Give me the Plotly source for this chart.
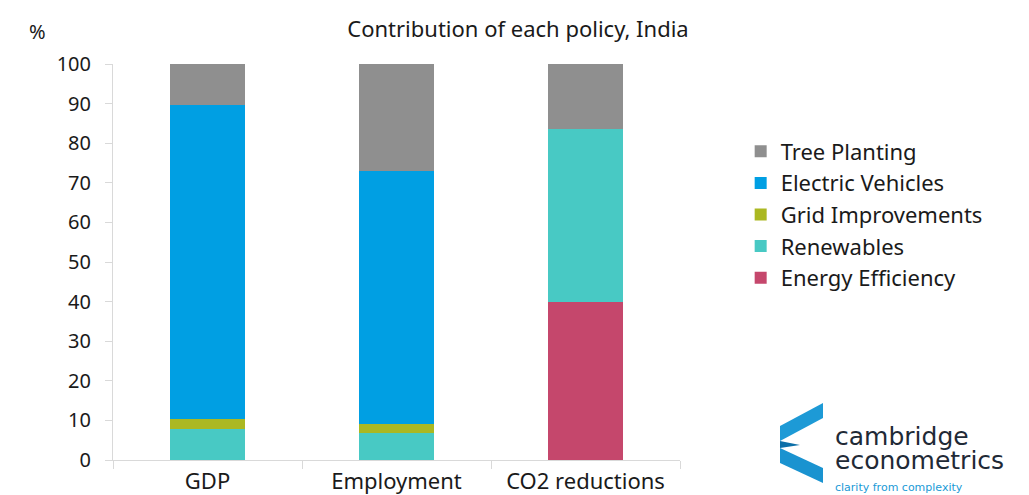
import plotly.graph_objects as go

# categories and policy shares (%)
categories = ["GDP", "Employment", "CO2 reductions"]
energy_efficiency = [0, 0, 39.9]
renewables = [7.8, 6.8, 43.7]
grid_improvements = [2.6, 2.3, 0]
electric_vehicles = [79.2, 63.9, 0]
tree_planting = [10.4, 27.0, 16.4]

series = [
    ("Energy Efficiency", energy_efficiency, "#c5476c"),
    ("Renewables", renewables, "#48c9c4"),
    ("Grid Improvements", grid_improvements, "#abb822"),
    ("Electric Vehicles", electric_vehicles, "#009fe3"),
    ("Tree Planting", tree_planting, "#8f8f8f"),
]

font_family = "'Noto Sans', sans-serif"
logo_font = "'DejaVu Sans', sans-serif"

fig = go.Figure()
for name, vals, col in series:
    fig.add_trace(go.Bar(
        x=categories, y=vals, name=name,
        marker=dict(color=col, line=dict(width=0)),
        width=0.4,
    ))

fig.update_layout(
    barmode="stack",
    width=1029, height=495,
    margin=dict(l=113, r=349, t=64, b=35, autoexpand=False),
    paper_bgcolor="white", plot_bgcolor="white",
    font=dict(family=font_family, size=20, color="#1a1a1a"),
    showlegend=True,
    legend=dict(
        x=1.107, y=0.62, xanchor="left", yanchor="middle",
        traceorder="reversed",
        font=dict(size=22),
        itemwidth=30,
        tracegroupgap=0,
    ),
    title=dict(
        text="Contribution of each policy, India",
        x=518 / 1029, xanchor="center", y=0.94, yanchor="middle",
        font=dict(size=22, family=font_family),
    ),
)

fig.update_xaxes(
    showline=True, linecolor="#d9d9d9", linewidth=1,
    ticks="outside", tickson="boundaries", ticklen=8, tickcolor="#d9d9d9",
    tickfont=dict(size=22), showgrid=False, automargin=False,
    ticklabelstandoff=2,
)
fig.update_yaxes(
    range=[0, 100], dtick=10,
    showline=True, linecolor="#d9d9d9", linewidth=1,
    ticks="outside", ticklen=7, tickcolor="#d9d9d9",
    tickfont=dict(size=20), showgrid=False, zeroline=False,
    automargin=False, ticklabelstandoff=10,
)

# "%" unit label
fig.add_annotation(
    text="%", xref="paper", yref="paper", x=-0.134, y=1.081,
    xanchor="center", yanchor="middle", showarrow=False,
    font=dict(size=20),
)

# logo: chevron made of two ribbons + wordmark
def px(x, y):
    return ((x - 113) / 567, (460 - y) / 396)

def path(points):
    pts = [px(*p) for p in points]
    return "M " + " L ".join(f"{a:.4f},{b:.4f}" for a, b in pts) + " Z"

fig.add_shape(type="path", xref="paper", yref="paper",
              path=path([(823, 403), (823, 418), (780, 441), (780, 426)]),
              fillcolor="#1d9ad6", line=dict(width=0))
fig.add_shape(type="path", xref="paper", yref="paper",
              path=path([(780, 448), (780, 463), (823, 483), (823, 468)]),
              fillcolor="#1a93d0", line=dict(width=0))
fig.add_shape(type="path", xref="paper", yref="paper",
              path=path([(780, 441), (800, 445), (780, 448)]),
              fillcolor="#0c6fa8", line=dict(width=0))

for txt, y, size, col in [("cambridge", 436, 25, "#1f2a36"),
                          ("econometrics", 460, 25, "#1f2a36"),
                          ("clarity from complexity", 487, 11, "#1a9ad6")]:
    xa, ya = px(834, y)
    fig.add_annotation(text=txt, xref="paper", yref="paper", x=xa, y=ya,
                       xanchor="left", yanchor="middle", showarrow=False,
                       borderpad=0,
                       font=dict(size=size, color=col, family=logo_font))

fig.write_html("out.html", config={"displayModeBar": False},
               post_script="document.body.style.margin='0';")
